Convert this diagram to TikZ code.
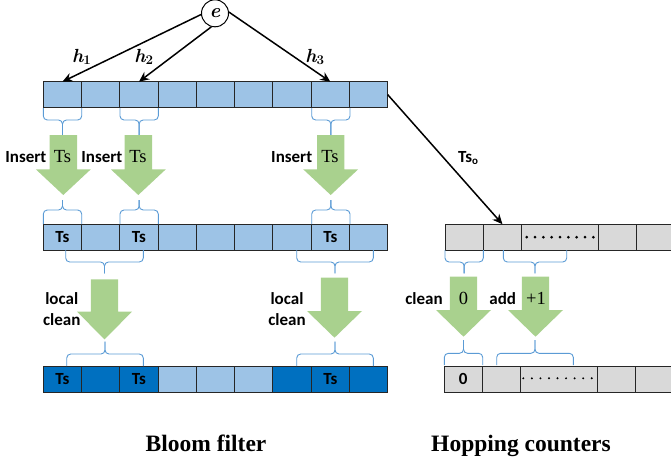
\documentclass[tikz,border=0pt]{standalone}
\usepackage{fontspec}
\newfontfamily\carl{Carlito}
\newfontfamily\libser{Liberation Serif}
\usetikzlibrary{arrows.meta}
\definecolor{lblue}{HTML}{9DC3E6}
\definecolor{dblue}{HTML}{0070C0}
\definecolor{hgray}{HTML}{D9D9D9}
\definecolor{bgreen}{HTML}{A9D18E}
\definecolor{bblue}{HTML}{5B9BD5}
\tikzset{
 cell/.style={draw=black!85, line width=1pt, minimum width=38.27pt, minimum height=26pt, inner sep=0pt, outer sep=0pt},
 lab/.style={font=\carl\bfseries\fontsize{17}{20}\selectfont, inner sep=0pt},
 ser/.style={font=\libser\fontsize{18.5}{20}\selectfont, inner sep=0pt},
 hlab/.style={font=\bfseries\itshape\fontsize{19}{20}\selectfont, inner sep=0pt},
 enode/.style={draw, shape=circle, line width=1pt, fill=white, minimum size=27pt, inner sep=0pt, font=\bfseries\itshape\fontsize{20}{22}\selectfont},
 title/.style={font=\libser\bfseries\fontsize{23.5}{28}\selectfont, inner sep=0pt, anchor=base},
 bracepath/.style={draw=bblue, line width=0.9pt, rounded corners=4pt},
 arr/.style={-{Stealth[length=10pt,width=9pt]}, line width=1.5pt},
}
\newcommand\mybrace[5]{%
 \draw[bracepath] (#1,#3) -- (#1,#4) -- ({(#1+#2)/2},#4) -- ({(#1+#2)/2},#5);
 \draw[bracepath] (#2,#3) -- (#2,#4) -- ({(#1+#2)/2},#4) -- ({(#1+#2)/2},#5);}
\newcommand\garrow[4]{%
 \fill[bgreen] ({#1-13.7},#2) -- ({#1+13.7},#2) -- ({#1+13.7},#3) -- ({#1+27.5},#3)
   -- (#1,#4) -- ({#1-27.5},#3) -- ({#1-13.7},#3) -- cycle;}
\begin{document}
\begin{tikzpicture}[x=1pt,y=-1pt]
\useasboundingbox (0,0) rectangle (671,466);
\clip (0,0) rectangle (671,466);

% Bloom filter rows
\foreach \i in {1,...,9} {
  \node[cell, fill=lblue] (a\i) at ({43.3+(\i-0.5)*38.27},94.7) {};
  \node[cell, fill=lblue] (b\i) at ({43.3+(\i-0.5)*38.27},237.2) {};
}
\foreach \i/\cc in {1/dblue,2/dblue,3/dblue,4/lblue,5/lblue,6/lblue,7/dblue,8/dblue,9/dblue} {
  \node[cell, fill=\cc] (c\i) at ({43.3+(\i-0.5)*38.27},379.2) {};
}
\foreach \i in {1,3,8} {
  \node[lab] (bt\i) at (b\i) {Ts};
  \node[lab] (ct\i) at (c\i) {Ts};
}

% Hopping counters rows
\node[cell, fill=hgray] (p1) at (464.15,237.2) {};
\node[cell, fill=hgray] (p2) at (502.45,237.2) {};
\node[cell, fill=hgray, minimum width=76.6pt] (p3) at (559.9,237.2) {};
\node[cell, fill=hgray] (p4) at (617.35,237.2) {};
\node[cell, fill=hgray] (p5) at (655.65,237.2) {};
\node[cell, fill=hgray] (q1) at (463.15,379) {};
\node[cell, fill=hgray] (q2) at (501.45,379) {};
\node[cell, fill=hgray, minimum width=76.6pt] (q3) at (558.9,379) {};
\node[cell, fill=hgray] (q4) at (616.35,379) {};
\node[cell, fill=hgray] (q5) at (654.65,379) {};
\node[lab] (q1t) at (q1) {0};
\foreach \k in {0,...,8} {
  \fill ({526.7+\k*8.33},237.2) circle[radius=1.5pt];
  \fill ({523.3+\k*8.55},378.3) circle[radius=1.1pt];
}

% element and hash arrows
\node[enode] (el) at (215,13.3) {e};
\draw[arr] (el.185) -- (a1.north);
\draw[arr] (el.-105) -- (a3.north);
\draw[arr] (el.5) -- (a8.north);
\node[hlab] (h1) at (81.7,57) {h\textsubscript{\upshape 1}};
\node[hlab] (h2) at (144,57) {h\textsubscript{\upshape 2}};
\node[hlab] (h3) at (315,57) {h\textsubscript{\upshape 3}};

% Ts_o arrow
\draw[arr] (a9.east) -- (p2.north);
\node[lab] (tso) at (468,158) {Ts\raisebox{-0.35ex}{\fontsize{11}{12}\selectfont o}};

% braces
\mybrace{43.3}{81.7}{108}{120}{135}
\mybrace{120}{158.3}{108}{120}{135}
\mybrace{311.7}{350}{108}{120}{135}
\mybrace{43.3}{81.7}{224}{210}{200}
\mybrace{120}{158.3}{224}{210}{200}
\mybrace{311.7}{350}{224}{210}{200}
\mybrace{65.7}{143.3}{250}{262}{273.3}
\mybrace{296.7}{373.3}{250}{262}{273.3}
\mybrace{66.7}{143.3}{366}{354}{341.7}
\mybrace{296.7}{373.3}{366}{354}{341.7}
\mybrace{445}{483.3}{250}{262}{273.3}
\mybrace{503.3}{566.7}{250}{262}{273.3}
\mybrace{444.3}{482.7}{365}{353.3}{340}
\mybrace{496.7}{573.3}{365}{353.3}{340}

% green block arrows
\garrow{63.3}{135}{169.3}{195}
\garrow{138.3}{135}{169.3}{195}
\garrow{330.7}{135}{169.3}{195}
\garrow{104.5}{279.3}{311.7}{339.3}
\garrow{334.5}{277.7}{311}{337.7}
\garrow{463.5}{276.7}{310}{336.7}
\garrow{535.5}{276.7}{310}{336.7}

% arrow labels
\node[lab, anchor=base] (i1) at (25.8,162.7) {Insert};
\node[ser, anchor=base] (s1) at (62.5,162.7) {Ts};
\node[lab, anchor=base] (i2) at (101.8,162.7) {Insert};
\node[ser, anchor=base] (s2) at (138,162.7) {Ts};
\node[lab, anchor=base] (i3) at (291.7,162.7) {Insert};
\node[ser, anchor=base] (s3) at (330,162.7) {Ts};
\node[lab, anchor=base] (l1) at (61.7,304.3) {local};
\node[lab, anchor=base] (l2) at (61.7,325) {clean};
\node[lab, anchor=base] (l3) at (287,304) {local};
\node[lab, anchor=base] (l4) at (287,325) {clean};
\node[lab, anchor=base] (cl) at (424,304.3) {clean};
\node[ser, anchor=base] (z0) at (463.5,304.3) {0};
\node[lab, anchor=base] (ad) at (502.7,304.3) {add};
\node[ser, anchor=base] (p1t) at (536,304.3) {+1};

% titles
\node[title] (t1) at (206,451.7) {Bloom filter};
\node[title] (t2) at (521,451.7) {Hopping counters};
\end{tikzpicture}
\end{document}
